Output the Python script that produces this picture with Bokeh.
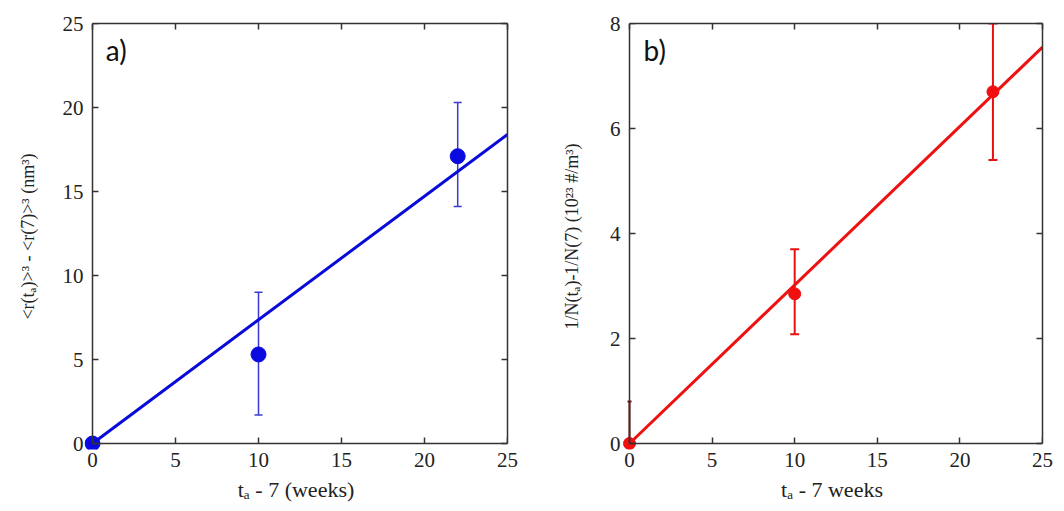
from bokeh.plotting import figure
from bokeh.models import LinearAxis, Whisker, ColumnDataSource, Range1d, FixedTicker, TeeHead, Label
from bokeh.layouts import row
from bokeh.embed import file_html
from bokeh.resources import INLINE

# Panel a data
a_x = [0, 10, 22]
a_y = [0, 5.3, 17.1]
a_lo = [0, 1.7, 14.1]
a_hi = [0, 9.0, 20.3]
a_fit_x = [0, 25]
a_fit_y = [0, 18.4]

# Panel b data
b_x = [0, 10, 22]
b_y = [0, 2.85, 6.7]
b_lo = [0, 2.08, 5.4]
b_hi = [0.8, 3.7, 8.0]
b_fit_x = [0, 25]
b_fit_y = [0, 7.55]

x_ticks = [0, 5, 10, 15, 20, 25]
a_y_ticks = [0, 5, 10, 15, 20, 25]
b_y_ticks = [0, 2, 4, 6, 8]

SERIF = "Liberation Serif"
FRAME = "#333333"
PADX = 8   # px of frame beyond the x=0 axis (lets the origin marker show fully)
PADY = 6
FH = 420   # px between y=0 and the top of the range


def line_axis(ticks, bounds, fixed=None):
    ax = LinearAxis(ticker=FixedTicker(ticks=ticks), bounds=bounds,
                    major_label_text_font_size="1px", major_label_text_color=None,
                    major_label_standoff=0)
    if fixed is not None:
        ax.fixed_location = fixed
    ax.major_tick_in = 6
    ax.major_tick_out = 0
    ax.minor_tick_line_color = None
    ax.axis_line_color = FRAME
    ax.axis_line_width = 1.5
    ax.major_tick_line_color = FRAME
    ax.major_tick_line_width = 1.5
    return ax


def label_axis(ticks, label, label_size, standoff, label_standoff):
    ax = LinearAxis(ticker=FixedTicker(ticks=ticks), axis_label=label,
                    axis_line_color=None, major_tick_line_color=None,
                    minor_tick_line_color=None, major_tick_in=0, major_tick_out=0)
    ax.major_label_text_font = SERIF
    ax.major_label_text_font_size = "21px"
    ax.major_label_text_color = "#222222"
    ax.major_label_standoff = standoff
    ax.axis_label_text_font = SERIF
    ax.axis_label_text_font_style = "normal"
    ax.axis_label_text_color = "#222222"
    ax.axis_label_text_font_size = label_size
    ax.axis_label_standoff = label_standoff
    return ax


def build(xmax, ymax, fw, left_border, right_border, xticks, yticks, xlabel, ylabel, ylab_standoff):
    padx = PADX * xmax / fw
    pady = PADY * ymax / FH
    p = figure(frame_width=fw + PADX, frame_height=FH + PADY, output_backend="svg",
               toolbar_location=None,
               x_range=Range1d(-padx, xmax), y_range=Range1d(-pady, ymax),
               x_axis_location=None, y_axis_location=None,
               min_border_left=left_border - PADX, min_border_right=right_border,
               min_border_top=23, min_border_bottom=10)
    p.grid.visible = False
    p.outline_line_color = None

    # labelled axes in the side panels (text only)
    p.add_layout(label_axis(xticks, xlabel, "22px", 3, 7), "below")
    p.add_layout(label_axis(yticks, ylabel, "18px", 1, ylab_standoff), "left")
    # frame lines and inward ticks
    p.add_layout(line_axis(xticks, (0, xmax), fixed=0), "below")
    p.add_layout(line_axis(yticks, (0, ymax), fixed=0), "left")
    p.add_layout(line_axis(yticks, (0, ymax)), "right")
    p.add_layout(line_axis(xticks, (0, xmax)), "above")
    return p


# ---------- Panel a ----------
pa = build(25, 25, 415, 92, 23, x_ticks, a_y_ticks,
           "tₐ - 7 (weeks)", "<r(tₐ)>³ - <r(7)>³ (nm³)", 22)

pa.line(a_fit_x, a_fit_y, line_color="#0a0ad8", line_width=3)
src_a = ColumnDataSource(dict(x=a_x[1:], lo=a_lo[1:], hi=a_hi[1:]))
wa = Whisker(base="x", lower="lo", upper="hi", source=src_a, dimension="height",
             line_color="#3a3ad2", line_width=1.5,
             upper_head=TeeHead(size=8, line_color="#3a3ad2", line_width=1.5),
             lower_head=TeeHead(size=8, line_color="#3a3ad2", line_width=1.5))
pa.add_layout(wa)
pa.scatter(a_x, a_y, size=15, fill_color="#0a0ae0", line_color="#0a0ae0")
pa.add_layout(Label(x=0.8, y=23.4, text="a)", text_font="Lato", text_font_size="28px",
                    text_baseline="middle", text_color="#111111"))

# ---------- Panel b ----------
pb = build(25, 8, 413, 99, 14, x_ticks, b_y_ticks,
           "tₐ - 7 weeks", "1/N(tₐ)-1/N(7) (10²³ #/m³)", 25)

pb.line(b_fit_x, b_fit_y, line_color="#ee1111", line_width=3)
src_b = ColumnDataSource(dict(x=b_x[1:], lo=b_lo[1:], hi=b_hi[1:]))
wb = Whisker(base="x", lower="lo", upper="hi", source=src_b, dimension="height",
             line_color="#e81010", line_width=2,
             upper_head=TeeHead(size=9, line_color="#e81010", line_width=2),
             lower_head=TeeHead(size=9, line_color="#e81010", line_width=2))
pb.add_layout(wb)
src_b0 = ColumnDataSource(dict(x=b_x[:1], lo=b_lo[:1], hi=b_hi[:1]))
wb0 = Whisker(base="x", lower="lo", upper="hi", source=src_b0, dimension="height",
              line_color="#6a1010", line_width=2,
              upper_head=TeeHead(size=4, line_color="#6a1010", line_width=2),
              lower_head=None)
pb.add_layout(wb0)
pb.scatter(b_x, b_y, size=12, fill_color="#f01010", line_color="#f01010")
pb.add_layout(Label(x=0.85, y=7.49, text="b)", text_font="Lato", text_font_size="28px",
                    text_baseline="middle", text_color="#111111"))

layout = row(pa, pb)
open("out.html", "w").write(file_html(layout, INLINE))
